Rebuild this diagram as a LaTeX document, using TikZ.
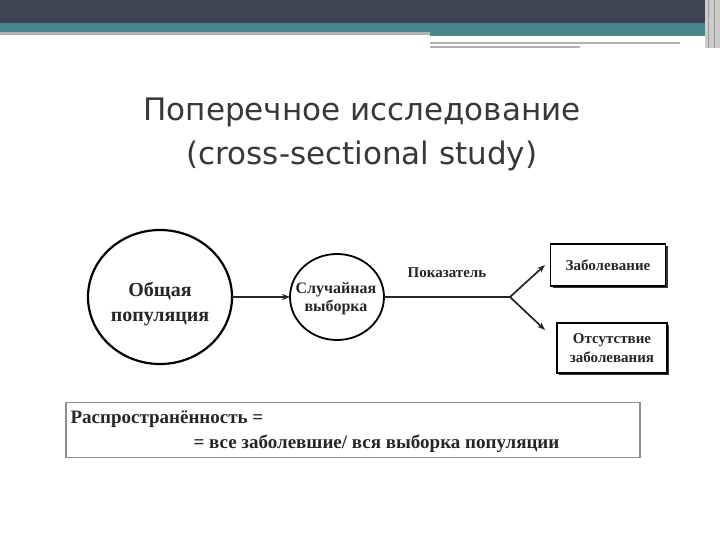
\documentclass[tikz,border=0pt]{standalone}
\usepackage{fontspec}
\setmainfont{Liberation Serif}
\newfontfamily\titlefont{DejaVu Sans}
\usetikzlibrary{arrows.meta,shadows}
\begin{document}
\begin{tikzpicture}[x=1pt,y=-1pt,
  lbl/.style={font=\bfseries\fontsize{16}{18}\selectfont,text=black!85,align=center},
  boxn/.style={draw,line width=1.5pt,fill=white,drop shadow={shadow xshift=2pt,shadow yshift=-2pt,opacity=1,fill=black!80},align=center,font=\bfseries\fontsize{15}{19}\selectfont,text=black!85,inner sep=1pt},
  arr/.style={-{Stealth[length=8pt,width=6pt]},line width=1.7pt,black!85}]
\useasboundingbox (0,0) rectangle (720,540);
\fill[white] (0,0) rectangle (720,540);
% top bar
\fill[fill={rgb,255:red,63;green,68;blue,84}] (0,0) rectangle (720,23);
\fill[fill={rgb,255:red,72;green,134;blue,140}] (0,23) rectangle (720,32);
\fill[black!30] (0,32) rectangle (430,35);
\fill[fill={rgb,255:red,72;green,134;blue,140}] (430,32) rectangle (710,36);
\fill[black!30] (430,42) rectangle (680,44);
\fill[black!30] (430,46) rectangle (580,48);
\fill[black!20] (705,0) rectangle (720,48);
\draw[black!40] (708,0) -- (708,48) (714,0) -- (714,48);
% title
\node[font=\titlefont\fontsize{31}{44}\selectfont,text=black!78,align=center] (title) at (362,134) {Поперечное исследование\\(cross-sectional study)};
% circles
\draw[line width=2.2pt] (160,297) ellipse [x radius=72, y radius=67];
\node[lbl,font=\bfseries\fontsize{20}{25}\selectfont] (pop) at (160,304) {Общая\\популяция};
\coordinate (bigE) at (232,297);
\draw[line width=1.8pt] (337,297) ellipse [x radius=47, y radius=43];
\node[lbl] (smp) at (336,299) {Случайная\\выборка};
\coordinate (smW) at (290,297);
\coordinate (smE) at (384,297);
\draw[arr] (bigE) -- (smW);
\coordinate (br) at (510,297);
\draw[line width=1.7pt,black!85] (smE) -- (br);
\node[lbl,font=\bfseries\fontsize{15}{18}\selectfont] (ind) at (447,273) {Показатель};
\node[boxn,minimum width=115pt,minimum height=42pt] (b1) at (608,265) {Заболевание};
\node[boxn,minimum width=110pt,minimum height=50pt] (b2) at (612,348) {Отсутствие\\заболевания};
\draw[arr] (br) -- (545,265);
\draw[arr] (br) -- (545,330);
% formula
\node[draw=black!45,line width=1.2pt,minimum width=574pt,minimum height=55pt] (f) at (353,430) {};
\node[font=\bfseries\fontsize{19}{22}\selectfont,text=black!85,anchor=west] (f1) at (67,419) {Распространённость =};
\node[font=\bfseries\fontsize{19}{22}\selectfont,text=black!85,anchor=west] (f2) at (190,444) {= все заболевшие/ вся выборка популяции};
\end{tikzpicture}
\end{document}
